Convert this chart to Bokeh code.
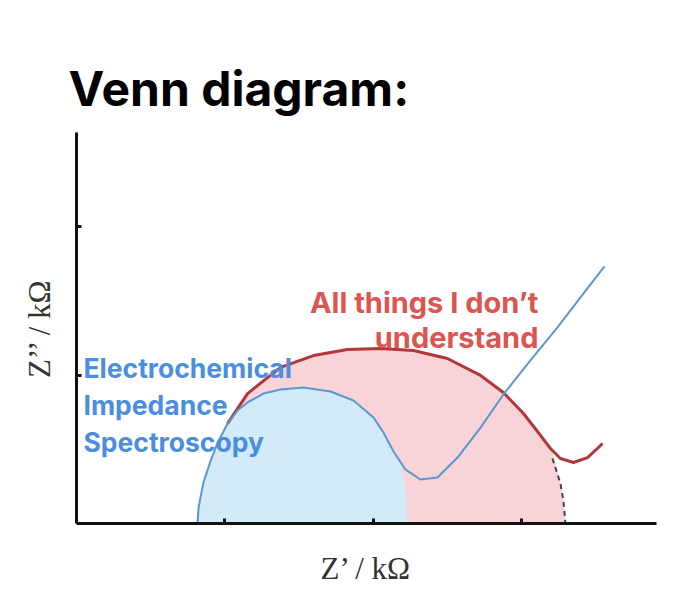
from bokeh.plotting import figure
from bokeh.models import Range1d, FixedTicker
from bokeh.core.properties import value
from bokeh.embed import file_html
from bokeh.resources import INLINE

# ---- data (Z' and Z'' in kOhm) ----
blue_x = [0.815, 0.822, 0.855, 0.902, 0.949, 1.017, 1.084, 1.152, 1.259, 1.374, 1.529,
          1.710, 1.865, 2.000, 2.067, 2.135, 2.215, 2.316, 2.431, 2.566, 2.721, 2.875,
          3.057, 3.239, 3.394, 3.556]
blue_y = [0.000, 0.108, 0.276, 0.418, 0.539, 0.673, 0.761, 0.815, 0.875, 0.902, 0.916,
          0.889, 0.828, 0.714, 0.613, 0.485, 0.364, 0.296, 0.310, 0.444, 0.646, 0.869,
          1.098, 1.320, 1.522, 1.731]
blue_fill_edge_x = [2.182, 2.209, 2.222, 2.229]
blue_fill_edge_y = [0.411, 0.303, 0.155, 0.000]

pink_x = [0.808, 0.822, 0.855, 0.902, 0.949, 1.017, 1.152, 1.374, 1.596, 1.825, 2.047,
          2.269, 2.498, 2.721, 2.875, 3.010, 3.125, 3.192, 3.219, 3.259, 3.279, 3.293]
pink_y = [0.000, 0.121, 0.276, 0.411, 0.525, 0.694, 0.875, 1.051, 1.131, 1.172, 1.178,
          1.165, 1.111, 0.997, 0.882, 0.741, 0.593, 0.505, 0.438, 0.269, 0.155, 0.000]

red_x = [1.017, 1.152, 1.374, 1.596, 1.825, 2.047, 2.269, 2.498, 2.721, 2.875,
         3.010, 3.125, 3.192, 3.259, 3.347, 3.441, 3.508, 3.542]
red_y = [0.673, 0.875, 1.051, 1.131, 1.172, 1.178, 1.165, 1.111, 0.997, 0.882,
         0.741, 0.593, 0.505, 0.438, 0.411, 0.444, 0.505, 0.539]

dash_x = [3.205, 3.259, 3.279, 3.293]
dash_y = [0.438, 0.269, 0.155, 0.000]

x_ticks = [1, 2, 3]
y_ticks = [1, 2]

blue_lines = ["Electrochemical", "Impedance", "Spectroscopy"]
red_lines = ["All things I don\u2019t", "understand"]

# ---- figure ----
p = figure(width=668, height=593, frame_width=580, frame_height=391,
           x_range=Range1d(0, 3.906), y_range=Range1d(0, 2.633),
           output_backend="svg", toolbar_location=None,
           min_border_left=76, min_border_top=132, min_border_bottom=70,
           min_border_right=12)
p.outline_line_color = None
p.grid.visible = False
p.background_fill_color = "white"
p.border_fill_color = "white"

p.title.text = "Venn diagram:"
p.title.text_font = "Inter"
p.title.text_font_style = "bold"
p.title.text_font_size = "48px"
p.title.text_color = "black"
p.title.align = "left"
p.title.offset = -8
p.title.standoff = 30

for ax, ticks in ((p.xaxis, x_ticks), (p.yaxis, y_ticks)):
    ax.ticker = FixedTicker(ticks=ticks)
    ax.axis_line_width = 3
    ax.axis_line_color = "#111111"
    ax.major_tick_in = 5
    ax.major_tick_out = 0
    ax.major_tick_line_width = 3
    ax.major_tick_line_color = "#111111"
    ax.minor_tick_line_color = None
    ax.major_label_overrides = {t: "" for t in ticks}
    ax.major_label_text_font_size = "1px"
    ax.major_label_standoff = 0
    ax.axis_label_text_font = "Liberation Serif"
    ax.axis_label_text_font_style = "normal"
    ax.axis_label_text_font_size = "31px"
    ax.axis_label_text_color = "#333333"

p.xaxis.axis_label = "Z\u2019 / k\u03a9"
p.yaxis.axis_label = "Z\u2019\u2019 / k\u03a9"
p.xaxis.axis_label_standoff = 27
p.yaxis.axis_label_standoff = 20

# pink region
p.patch(pink_x, pink_y, fill_color="#f8d3d8", line_color=None)
# blue region: area under the blue curve
n_fill = 16
bx = blue_x[:n_fill] + blue_fill_edge_x
by = blue_y[:n_fill] + blue_fill_edge_y
p.patch(bx, by, fill_color="#d3ebf9", line_color=None)

p.line(dash_x, dash_y, line_color="#444444", line_width=2, line_dash="5 4")
p.line(red_x, red_y, line_color="#b3363a", line_width=3)
p.line(blue_x, blue_y, line_color="#5a98cf", line_width=2)

# labels
p.text(x=[0.047, 0.047, 0.047], y=[1.05, 0.795, 0.552], text=blue_lines,
       text_font=value("Inter"), text_font_style="bold", text_font_size="26.5px",
       text_color="#4a8ee0", text_align="left", text_baseline="alphabetic")
p.text(x=[3.111, 3.111], y=[1.488, 1.253], text=red_lines,
       text_font=value("Inter"), text_font_style="bold", text_font_size="29px",
       text_color="#dc5550", text_align="right", text_baseline="alphabetic")

open("out.html", "w").write(file_html(p, INLINE))
